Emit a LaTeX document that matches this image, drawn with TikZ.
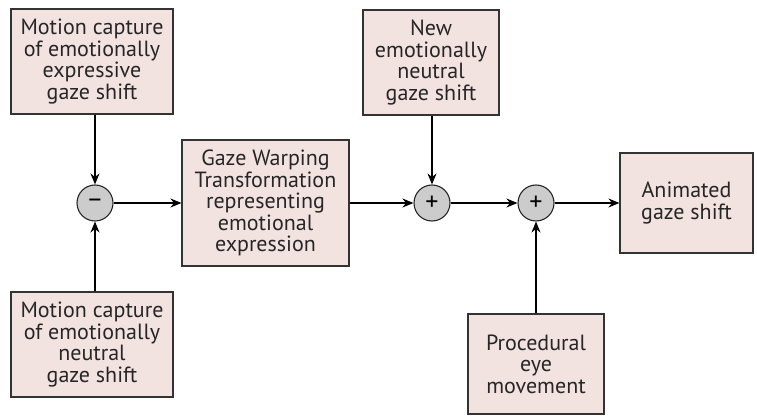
\documentclass[tikz,border=0pt]{standalone}
\usepackage{fontspec}
\setmainfont{PT Sans}
\usetikzlibrary{arrows.meta,positioning}

\definecolor{boxfill}{RGB}{242,227,225}
\definecolor{sumfill}{RGB}{204,204,204}

\begin{document}
\begin{tikzpicture}[x=1pt, y=1pt, font=\fontsize{22}{21.5}\selectfont]

\tikzset{
block/.style={draw=black!80, fill=boxfill, line width=1.1pt, align=center, inner sep=0pt, text=black!85},
summ/.style={circle, draw=black!85, fill=sumfill, line width=1.1pt, minimum size=36pt, inner sep=0pt, font=\fontsize{26}{26}\selectfont},
flow/.style={-{Stealth[length=11pt,width=9pt]}, line width=1.1pt},
}

\useasboundingbox (0,0) rectangle (757,415);

% Nodes
\node[block, minimum width=162pt, minimum height=105pt] (mcexp) at (92,353.5) {Motion capture\\of emotionally\\expressive\\gaze shift};
\node[block, minimum width=162pt, minimum height=105pt] (mcneu) at (92,70.5) {Motion capture\\of emotionally\\neutral\\gaze shift};
\node[summ] (minus) at (95,212) {--};

\node[block, minimum width=167pt, minimum height=126pt] (warp) at (265.5,212) {Gaze Warping\\Transformation\\representing\\emotional\\expression};

\node[summ] (plusa) at (432,212) {+};
\node[block, minimum width=136pt, minimum height=105pt] (newneu) at (431,352.5) {New\\emotionally\\neutral\\gaze shift};

\node[summ] (plusb) at (536,212) {+};
\node[block, minimum width=136pt, minimum height=100pt] (proc) at (536,51) {Procedural\\eye\\movement};

\node[block, minimum width=133pt, minimum height=100pt] (anim) at (686.5,212) {Animated\\gaze shift};

% Arrows
\draw[flow] (mcexp.south -| minus) -- (minus);
\draw[flow] (mcneu.north -| minus) -- (minus);
\draw[flow] (minus) -- (warp);
\draw[flow] (warp) -- (plusa);
\draw[flow] (newneu.south -| plusa) -- (plusa);
\draw[flow] (plusa) -- (plusb);
\draw[flow] (proc) -- (plusb);
\draw[flow] (plusb) -- (anim);

\end{tikzpicture}
\end{document}
